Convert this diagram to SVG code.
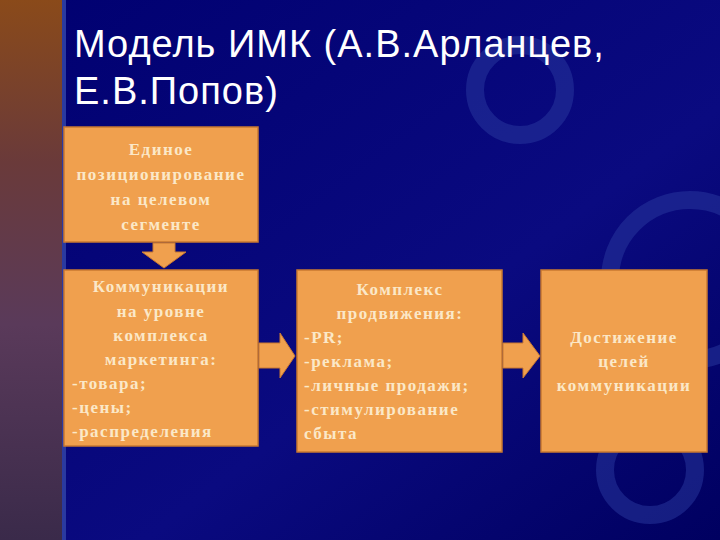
<svg xmlns="http://www.w3.org/2000/svg" width="720" height="540" viewBox="0 0 720 540">
<defs>
<linearGradient id="bg" x1="0" y1="0" x2="1" y2="1"><stop offset="0" stop-color="#000070"/><stop offset="0.6" stop-color="#0a0a80"/><stop offset="1" stop-color="#000060"/></linearGradient>
<linearGradient id="strip" x1="0" y1="0" x2="0" y2="1"><stop offset="0" stop-color="#8a4a1a"/><stop offset="0.3" stop-color="#6a3a3a"/><stop offset="0.6" stop-color="#5a3a5a"/><stop offset="1" stop-color="#3a2a4a"/></linearGradient>
<style>
.box{fill:#f0a04e;stroke:#c87830;stroke-width:1.5}
.t{font-family:"Liberation Serif",serif;font-weight:bold;font-size:17px;letter-spacing:1.5px;fill:#fbe8c8}
.arr{fill:#f0a04e;stroke:#c87830;stroke-width:1}
.gear{fill:none;stroke:#2a3aa0;stroke-width:18;opacity:0.5}
</style>
</defs>
<rect width="720" height="540" fill="url(#bg)"/>
<circle class="gear" cx="690" cy="280" r="80"/>
<circle class="gear" cx="520" cy="90" r="45"/>
<circle class="gear" cx="650" cy="470" r="45"/>
<rect x="0" y="0" width="62" height="540" fill="url(#strip)"/>
<rect x="62" y="0" width="4" height="540" fill="#2a3aa0"/>
<text x="74" y="57" font-family="Liberation Sans,sans-serif" font-size="38" letter-spacing="1" fill="#ffffff">Модель ИМК (А.В.Арланцев,</text>
<text x="74" y="104" font-family="Liberation Sans,sans-serif" font-size="38" letter-spacing="1" fill="#ffffff">Е.В.Попов)</text>
<g id="connectors">
<polygon class="arr" points="153,243 175,243 175,252 186,252 164,268 142,252 153,252"/>
<polygon class="arr" points="259,343 280,343 280,333 295,356 280,378 280,368 259,368"/>
<polygon class="arr" points="503,343 523,343 523,333 540,356 523,378 523,368 503,368"/>
</g>
<g id="n1"><rect class="box" x="64" y="127" width="194" height="115"/>
<text class="t" text-anchor="middle"><tspan x="161" y="155">Единое</tspan><tspan x="161" y="180">позиционирование</tspan><tspan x="161" y="205">на целевом</tspan><tspan x="161" y="230">сегменте</tspan></text></g>
<g id="n2"><rect class="box" x="64" y="270" width="194" height="176"/>
<text class="t"><tspan x="161" y="292" text-anchor="middle">Коммуникации</tspan><tspan x="161" y="317" text-anchor="middle">на уровне</tspan><tspan x="161" y="341" text-anchor="middle">комплекса</tspan><tspan x="161" y="365" text-anchor="middle">маркетинга:</tspan><tspan x="72" y="389">-товара;</tspan><tspan x="72" y="413">-цены;</tspan><tspan x="72" y="437">-распределения</tspan></text></g>
<g id="n3"><rect class="box" x="297" y="270" width="205" height="182"/>
<text class="t"><tspan x="400" y="295" text-anchor="middle">Комплекс</tspan><tspan x="400" y="319" text-anchor="middle">продвижения:</tspan><tspan x="304" y="343">-PR;</tspan><tspan x="304" y="367">-реклама;</tspan><tspan x="304" y="391">-личные продажи;</tspan><tspan x="304" y="415">-стимулирование</tspan><tspan x="304" y="439">сбыта</tspan></text></g>
<g id="n4"><rect class="box" x="541" y="270" width="166" height="182"/>
<text class="t" text-anchor="middle"><tspan x="624" y="343">Достижение</tspan><tspan x="624" y="367">целей</tspan><tspan x="624" y="391">коммуникации</tspan></text></g>
</svg>
